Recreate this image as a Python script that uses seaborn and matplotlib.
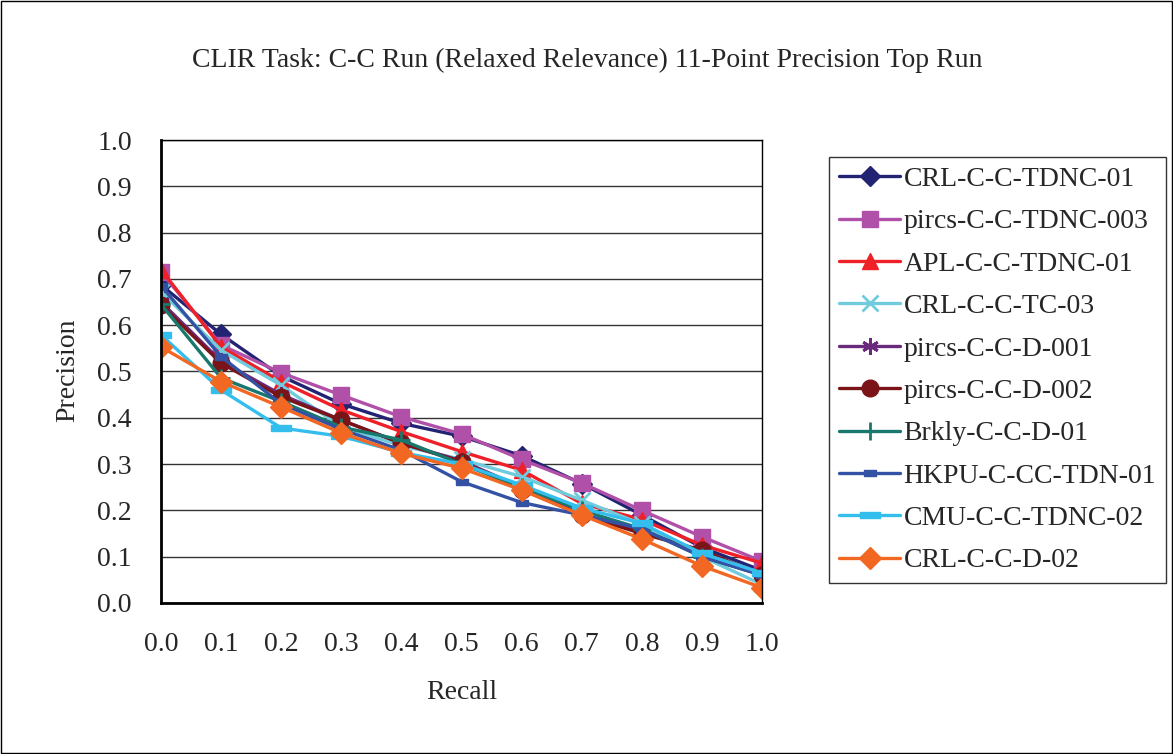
import seaborn as sns
import matplotlib.pyplot as plt
import numpy as np
import pandas as pd
from matplotlib.path import Path
from matplotlib.patches import Rectangle

# 11-point recall levels
recall = [0.0, 0.1, 0.2, 0.3, 0.4, 0.5, 0.6, 0.7, 0.8, 0.9, 1.0]

runs = ["CRL-C-C-TDNC-01", "pircs-C-C-TDNC-003", "APL-C-C-TDNC-01", "CRL-C-C-TC-03",
        "pircs-C-C-D-001", "pircs-C-C-D-002", "Brkly-C-C-D-01", "HKPU-C-CC-TDN-01",
        "CMU-C-C-TDNC-02", "CRL-C-C-D-02"]

crl_tdnc_01 = [0.687, 0.580, 0.490, 0.430, 0.388, 0.360, 0.318, 0.258, 0.190, 0.120, 0.070]
pircs_tdnc_003 = [0.715, 0.557, 0.497, 0.449, 0.402, 0.365, 0.310, 0.259, 0.200, 0.143, 0.090]
apl_tdnc_01 = [0.720, 0.553, 0.478, 0.417, 0.370, 0.327, 0.287, 0.215, 0.180, 0.125, 0.086]
crl_tc_03 = [0.672, 0.546, 0.470, 0.380, 0.340, 0.310, 0.273, 0.222, 0.170, 0.100, 0.040]
pircs_d_001 = [0.650, 0.522, 0.450, 0.395, 0.345, 0.307, 0.250, 0.192, 0.155, 0.110, 0.060]
pircs_d_002 = [0.644, 0.518, 0.445, 0.395, 0.345, 0.305, 0.245, 0.190, 0.150, 0.114, 0.060]
brkly_d_01 = [0.645, 0.486, 0.435, 0.380, 0.352, 0.300, 0.250, 0.200, 0.160, 0.100, 0.060]
hkpu_tdn_01 = [0.685, 0.532, 0.430, 0.375, 0.330, 0.262, 0.217, 0.190, 0.160, 0.100, 0.060]
cmu_tdnc_02 = [0.579, 0.460, 0.378, 0.360, 0.325, 0.300, 0.255, 0.205, 0.172, 0.107, 0.065]
crl_d_02 = [0.553, 0.478, 0.423, 0.367, 0.323, 0.291, 0.244, 0.190, 0.138, 0.080, 0.033]

values = [crl_tdnc_01, pircs_tdnc_003, apl_tdnc_01, crl_tc_03, pircs_d_001,
          pircs_d_002, brkly_d_01, hkpu_tdn_01, cmu_tdnc_02, crl_d_02]

colors = ["#232373", "#B050A8", "#EE2028", "#70CCDC", "#6A2A7C",
          "#7A1418", "#18786E", "#3452A4", "#34BEEE", "#F26822"]

# small flat bar markers for HKPU / CMU
small_bar = Path([(-1, -0.45), (1, -0.45), (1, 0.45), (-1, 0.45), (-1, -0.45)])
wide_bar = Path([(-1, -0.35), (1, -0.35), (1, 0.35), (-1, 0.35), (-1, -0.35)])

markers = ["D", "s", "^", "x", (6, 2, 0), "o", "+", small_bar, wide_bar, "D"]
msizes = [10, 12, 12, 11, 12, 12, 13, 9, 14, 11]

df = pd.DataFrame({
    "Recall": np.tile(recall, len(runs)),
    "Precision": np.concatenate(values),
    "Run": np.repeat(runs, len(recall)),
})

sns.set_style("white")
plt.rcParams["font.family"] = ["Liberation Serif", "DejaVu Serif"]

fig = plt.figure(figsize=(11.73, 7.54), dpi=100)
ax = fig.add_axes([0.1373, 0.2003, 0.5123, 0.614])

for i, run in enumerate(runs):
    sub = df[df["Run"] == run]
    sns.lineplot(data=sub, x="Recall", y="Precision", ax=ax, color=colors[i],
                 marker=markers[i], markersize=msizes[i], linewidth=2.4,
                 markeredgecolor=colors[i], markeredgewidth=2 if i in (3, 4, 6) else 1,
                 label=run)

ax.set_xlim(0, 1.0)
ax.set_ylim(0, 1.0)
ax.set_xticks(np.arange(0, 1.01, 0.1))
ax.set_yticks(np.arange(0, 1.01, 0.1))
ax.set_xticklabels([f"{v:.1f}" for v in np.arange(0, 1.01, 0.1)])
ax.set_yticklabels([f"{v:.1f}" for v in np.arange(0, 1.01, 0.1)])
ax.tick_params(axis="both", direction="in", length=7, width=1, labelsize=20, color="black")
ax.tick_params(axis="x", pad=21)
ax.tick_params(axis="y", pad=21)
ax.yaxis.grid(True, color="#333333", linewidth=1)
ax.xaxis.grid(False)
for side in ["left", "bottom"]:
    ax.spines[side].set_color("black")
    ax.spines[side].set_linewidth(2)
for side in ["top", "right"]:
    ax.spines[side].set_color("black")
    ax.spines[side].set_linewidth(1)
ax.set_xlabel("")
ax.set_ylabel("")

fig.text(0.394, 0.081, "Recall", ha="center", va="center", fontsize=20)
fig.text(0.058, 0.509, "Precision", ha="center", va="center", rotation=90, fontsize=20)
fig.text(0.501, 0.92, "CLIR Task: C-C Run (Relaxed Relevance) 11-Point Precision Top Run",
         ha="center", va="center", fontsize=20)

ax.legend_.remove()
handles, labels = ax.get_legend_handles_labels()
leg = fig.legend(handles, labels, loc="upper left", bbox_to_anchor=(0.707, 0.792),
                 fontsize=20, frameon=True, fancybox=False, edgecolor="black",
                 labelspacing=0.61, handlelength=2.2, handletextpad=0.12, borderpad=0.35,
                 borderaxespad=0)
leg.get_frame().set_linewidth(1)

fig.patches.append(Rectangle((0.001, 0.001), 0.998, 0.998, transform=fig.transFigure,
                             fill=False, edgecolor="black", linewidth=1))

fig.savefig("out.png", dpi=100)
